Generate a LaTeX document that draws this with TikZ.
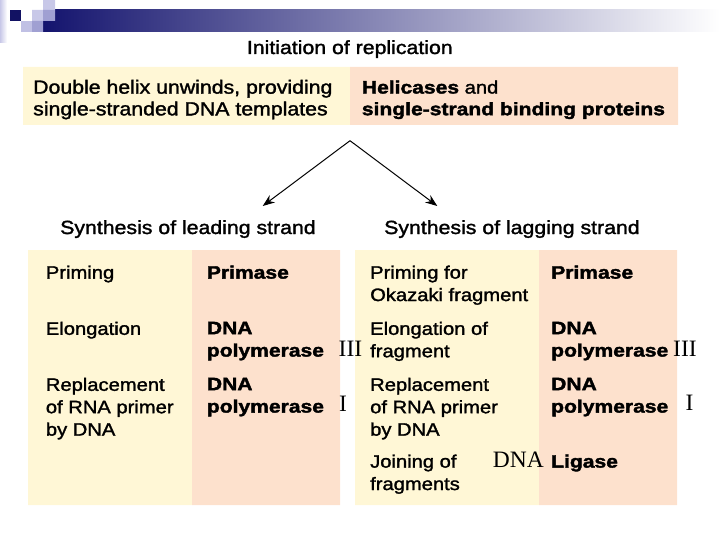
\documentclass[tikz,border=0pt]{standalone}
\usepackage{fontspec}
\setmainfont{Liberation Sans}[FakeStretch=1.12, UprightFeatures={FakeBold=1.6}, BoldFeatures={FakeStretch=1.17, FakeBold=2}]
\newfontfamily\serifnum{Liberation Serif}
\usetikzlibrary{arrows.meta}
\definecolor{cream}{RGB}{255,247,214}
\definecolor{salmon}{RGB}{253,225,205}
\definecolor{navy}{RGB}{20,20,110}
\definecolor{lavender}{RGB}{200,200,232}
\definecolor{lilac}{RGB}{160,160,210}
\tikzstyle{cell}=[inner sep=0pt,anchor=north west,align=left,font=\fontsize{18}{22.4}\selectfont]
\tikzstyle{enzyme}=[cell,font=\fontsize{18}{22.4}\selectfont\bfseries]
\tikzstyle{heading}=[inner sep=0pt,anchor=base west,font=\fontsize{19}{21.7}\selectfont]
\tikzstyle{numeral}=[inner sep=0pt,anchor=base west,font=\serifnum\fontsize{23.5}{26}\selectfont]
\tikzstyle{branch}=[line width=1pt,-{Stealth[length=12pt,width=9pt]}]
\begin{document}
\begin{tikzpicture}[x=1pt,y=-1pt]
  \useasboundingbox (0,0) rectangle (720,540);
  \shade[left color=lavender,right color=white] (0,0) rectangle (7,43);
  \shade[left color=navy,right color=white] (43,10) rectangle (720,32);
  \fill[lavender] (43,0) rectangle (55,10) (32,10) rectangle (43,21);
  \fill[lilac] (43,10) rectangle (55,21) (32,21) rectangle (43,32);
  \fill[lavender!80!lilac] (21,21) rectangle (32,32);
  \fill[navy!90!black] (10,10) rectangle (21,21);
  \fill[cream] (23,67) rectangle (350,125) (28,250) rectangle (192,505) (355,250) rectangle (539,505);
  \fill[salmon] (350,67) rectangle (678,125) (192,250) rectangle (340,505) (539,250) rectangle (677,505);
  \foreach \name/\x/\y/\txt in {title/246.7/54/Initiation of replication,
                                lead/60/234/Synthesis of leading strand,
                                lag/384/234/Synthesis of lagging strand}
    \node[heading] (\name) at (\x,\y) {\txt};
  \node[cell,font=\fontsize{19}{21.7}\selectfont] (unwind) at (33,79.7)
    {Double helix unwinds, providing\\single-stranded DNA templates};
  \node[cell,font=\fontsize{18}{21.7}\selectfont] (helicase) at (361.7,80.3)
    {\textbf{Helicases} and\\\textbf{single-strand binding proteins}};
  \foreach \name/\x/\y/\txt in {lead-prime/45.7/265.4/Priming,
                                lead-elong/45.7/321.6/Elongation,
                                lead-repl/45.7/377.6/{Replacement\\of RNA primer\\by DNA},
                                lag-prime/370/265.4/{Priming for\\Okazaki fragment},
                                lag-elong/370/321.6/{Elongation of\\fragment},
                                lag-repl/370/377.6/{Replacement\\of RNA primer\\by DNA},
                                lag-join/370/454.4/{Joining of\\fragments}}
    \node[cell] (\name) at (\x,\y) {\txt};
  \foreach \name/\x/\y/\txt in {lead-primase/206.7/265.4/Primase,
                                lead-pol3/206.7/321.6/{DNA\\polymerase},
                                lead-pol1/206.7/377.6/{DNA\\polymerase},
                                lag-primase/551/265.4/Primase,
                                lag-pol3/551/321.6/{DNA\\polymerase},
                                lag-pol1/551/377.6/{DNA\\polymerase},
                                lag-ligase/551/454.4/Ligase}
    \node[enzyme] (\name) at (\x,\y) {\txt};
  \foreach \name/\x/\y/\txt in {lead-iii/338.5/356.5/III, lead-i/339/411/I,
                                lag-iii/673/356.7/III, lag-i/685.5/410/I,
                                lag-dna/492.7/467.3/DNA}
    \node[numeral] (\name) at (\x,\y) {\txt};
  \coordinate (apex) at (350,140.7);
  \coordinate (lead-tip) at (262.7,206);
  \coordinate (lag-tip) at (437.3,206);
  \draw[branch] (apex) -- (lead-tip);
  \draw[branch] (apex) -- (lag-tip);
\end{tikzpicture}
\end{document}
